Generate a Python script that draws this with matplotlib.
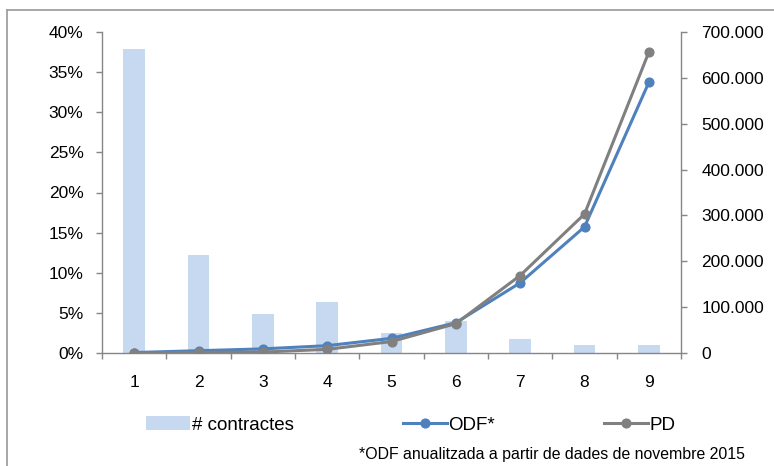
import matplotlib
matplotlib.use('Agg')
import matplotlib.pyplot as plt
from matplotlib.ticker import FuncFormatter
from matplotlib.lines import Line2D

plt.rcParams['font.family'] = ['Liberation Sans', 'DejaVu Sans']

# data
categories = [1, 2, 3, 4, 5, 6, 7, 8, 9]
contractes = [37.9, 12.2, 4.9, 6.3, 2.5, 4.0, 1.8, 1.0, 1.0]   # % of contracts
odf = [1000, 5000, 9000, 16000, 32000, 66000, 153000, 275000, 590000]
pd_vals = [200, 1500, 2000, 8000, 25000, 64000, 169000, 303000, 656000]

grey = '#868686'
W, H = 774, 466

fig = plt.figure(figsize=(W / 100, H / 100), dpi=100)
ax = fig.add_axes([102/W, 1-353/H, (681-102)/W, (353-32)/H])
ax2 = ax.twinx()

bars = ax.bar(categories, contractes, width=0.34, color='#C6D9F1', zorder=1)
l1, = ax2.plot(categories, odf, color='#4F81BD', lw=2.2, marker='o', ms=6.3, zorder=3)
l2, = ax2.plot(categories, pd_vals, color='#808080', lw=2.2, marker='o', ms=6.3, zorder=4)

ax.set_xlim(0.5, 9.5)
ax.set_ylim(0, 40)
ax.set_yticks(range(0, 41, 5))
ax.yaxis.set_major_formatter(FuncFormatter(lambda v, p: '%d%%' % v))
ax2.set_ylim(0, 700000)
ax2.set_yticks(range(0, 700001, 100000))
ax2.yaxis.set_major_formatter(FuncFormatter(lambda v, p: '{:,.0f}'.format(v).replace(',', '.')))

ax.set_xticks(categories)
ax.set_xticks([x + 0.5 for x in range(0, 10)], minor=True)
ax.tick_params(axis='x', which='major', length=0, labelsize=12.5, pad=16)
ax.tick_params(axis='x', which='minor', length=4.3, color=grey, width=1)
ax.tick_params(axis='y', length=4.3, color=grey, width=1, labelsize=12.5, pad=9)
ax2.tick_params(axis='y', length=4.3, color=grey, width=1, labelsize=12.5, pad=10.5)

for a in (ax, ax2):
    a.spines['top'].set_visible(False)
    for s in ('left', 'right', 'bottom'):
        a.spines[s].set_color(grey)
        a.spines[s].set_linewidth(1)
ax.spines['right'].set_visible(False)
ax2.spines['left'].set_visible(False)
ax2.spines['bottom'].set_visible(False)

fig.legend([bars, l1, l2], ['# contractes', 'ODF*', 'PD'], loc='center',
           bbox_to_anchor=(411/W, 1-425/H), ncol=3, frameon=False,
           fontsize=13.5, columnspacing=5.8, handlelength=2.35, handletextpad=0.1)
fig.text(745/W, 1-455/H, '*ODF anualitzada a partir de dades de novembre 2015',
         ha='right', va='center', fontsize=11.4)

# chart frame (only left and top edges visible in the crop)
fig.add_artist(Line2D([7/W, 7/W], [0, 1-10/H], transform=fig.transFigure,
                      color='#A0A0A0', lw=1.3))
fig.add_artist(Line2D([7/W, 1], [1-10/H, 1-10/H], transform=fig.transFigure,
                      color='#A0A0A0', lw=1.3))

fig.savefig('out.png', dpi=100)
